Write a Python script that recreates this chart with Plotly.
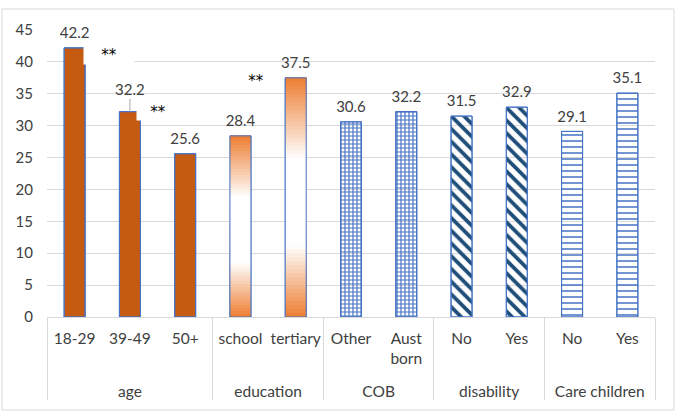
import plotly.graph_objects as go

groups = ["age", "age", "age", "education", "education", "COB", "COB",
          "disability", "disability", "Care children", "Care children"]
cats = ["18-29", "39-49", "50+", "school", "tertiary", "Other", "Aust<br>born",
        "No", "Yes", "No", "Yes"]
values = [42.2, 32.2, 25.6, 28.4, 37.5, 30.6, 32.2, 31.5, 32.9, 29.1, 35.1]
labels = ["42.2", "32.2", "25.6", "28.4", "37.5", "30.6", "32.2", "31.5", "32.9", "29.1", "35.1"]

# style per point
fg = ["#C55A11"] * 3 + ["#FFFFFF"] * 2 + ["#4472C4"] * 2 + ["#1F4E79"] * 2 + ["#4472C4"] * 2
shapes_ = [""] * 5 + ["+", "+", "\\", "\\", "-", "-"]
psize = [8] * 5 + [4, 4, 9, 9, 6, 6]
psol = [0.3] * 5 + [0.5, 0.5, 0.42, 0.42, 0.25, 0.25]

BLUE = "#4472C4"
W = 0.38
TXT = "#404040"
fig = go.Figure()

group_lab = ["<br>" + g for g in groups]

fig.add_trace(go.Bar(
    x=[group_lab, cats], y=values, width=W,
    marker=dict(color=fg, line=dict(color=BLUE, width=1),
                pattern=dict(shape=shapes_, fgcolor=fg, bgcolor="white",
                             size=psize, solidity=psol, fillmode="replace")),
    hoverinfo="skip"))

# gradient for education bars
edu_idx = [i for i, g in enumerate(groups) if g == "education"]
N = 60
o = (237, 125, 49)
def grad(t):
    if t < 0.3:
        a = t / 0.3
    elif t < 0.66:
        a = 1.0
    else:
        a = (1 - t) / 0.34
    a = max(0.0, min(1.0, a))
    c = [round(o[k] + (255 - o[k]) * a) for k in range(3)]
    return "rgb(%d,%d,%d)" % tuple(c)

for k in range(N):
    t = (k + 0.5) / N
    fig.add_trace(go.Bar(
        x=[[group_lab[i] for i in edu_idx], [cats[i] for i in edu_idx]],
        y=[values[i] * (N - k) / N for i in edu_idx],
        base=[values[i] * k / N for i in edu_idx],
        width=W, marker=dict(color=grad(t), line=dict(width=0)), hoverinfo="skip"))

# outline
fig.add_trace(go.Bar(
    x=[group_lab, cats], y=values, width=W,
    marker=dict(color="rgba(0,0,0,0)", line=dict(color=BLUE, width=1)),
    hoverinfo="skip"))

# data labels (32.2 label is lifted with a leader line in the original)
lab_off = [8] * 11
lab_off[1] = 19
fig.add_trace(go.Scatter(
    x=[group_lab, cats], y=values, mode="markers+text", text=labels,
    textposition="top center",
    marker=dict(size=lab_off, color="white", opacity=0, line=dict(width=0)),
    textfont=dict(family="Lato", size=15, color=TXT),
    cliponaxis=False, hoverinfo="skip"))

ann_x = [0.62, 1.51, 3.28]
ann_y = [41.4, 32.5, 37.3]
ann_w = [48, 40, 22]
ann_h = [16, 15, 16]
for ax_, ay_, aw, ah in zip(ann_x, ann_y, ann_w, ann_h):
    fig.add_annotation(x=ax_, y=ay_, xref="x", yref="y", text="**", showarrow=False,
                       bgcolor="white", width=aw, height=ah, yshift=-2,
                       font=dict(family="DejaVu Sans", size=15, color="#000000"))

fig.update_layout(
    width=685, height=419, barmode="overlay", showlegend=False,
    margin=dict(l=47, r=30, t=30, b=102, autoexpand=False),
    paper_bgcolor="white", plot_bgcolor="white",
    font=dict(family="Lato", size=14, color=TXT),
    xaxis=dict(showdividers=True, dividercolor="#D9D9D9", dividerwidth=1,
               showline=True, linecolor="#D9D9D9", ticks="", showgrid=False,
               ticklabelstandoff=7, tickangle=0, automargin=False,
               tickfont=dict(family="Lato", size=15.5, color=TXT),
               range=[-0.5, 10.5]),
    yaxis=dict(range=[0, 45], dtick=5, gridcolor="#D9D9D9", zeroline=False,
               showline=False, ticks="outside", ticklen=10, tickcolor="rgba(0,0,0,0)",
               automargin=False,
               tickfont=dict(family="Lato", size=15, color=TXT)),
    shapes=[dict(type="rect", xref="paper", yref="paper",
                 x0=(2 - 47) / 608, x1=(674 - 47) / 608,
                 y0=(317 - 410) / 287, y1=(317 - 9) / 287,
                 line=dict(color="#D9D9D9", width=1), layer="below"),
            dict(type="line", xref="x", yref="y", x0=1, x1=1,
                 y0=values[1], y1=values[1] + 2.0,
                 line=dict(color="#A6A6A6", width=1))],
)

fig.write_html("out.html")
